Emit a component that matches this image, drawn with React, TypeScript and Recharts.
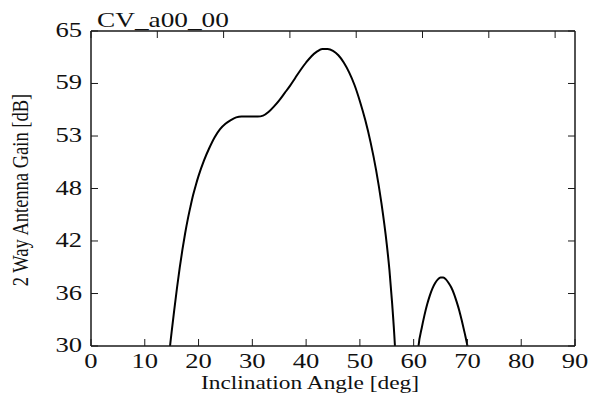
import React from 'react';
import { LineChart, Line, XAxis, YAxis } from 'recharts';

const angle = [
  14.2, 14.7, 15.0, 15.5, 16.0, 16.5, 17.0, 17.5, 18.0, 18.5, 19.0, 19.5, 20.0, 21.0, 22.0, 23.0,
  24.0, 25.0, 26.0, 27.0, 28.0, 29.0, 30.0, 31.0, 32.0, 33.0, 34.0, 35.0, 36.0, 37.0, 38.0, 39.0,
  40.0, 41.0, 42.0, 43.0, 44.0, 45.0, 46.0, 47.0, 48.0, 49.0, 50.0, 51.0, 52.0, 53.0, 54.0, 55.0,
  55.5, 56.0, 56.5, 56.8, 58.5, 60.5, 60.9, 61.5, 62.0, 62.5, 63.0, 63.5, 64.0, 64.5, 65.0, 65.5,
  66.0, 66.5, 67.0, 67.5, 68.0, 68.5, 69.0, 69.5, 70.0, 70.4,
];
const gain = [
  26.5, 30.0, 31.6, 34.1, 36.5, 38.7, 40.7, 42.5, 44.1, 45.5, 46.8, 47.9, 48.9, 50.6, 52.0, 53.2,
  54.1, 54.7, 55.1, 55.4, 55.5, 55.5, 55.5, 55.5, 55.6, 56.0, 56.6, 57.3, 58.1, 58.9, 59.8, 60.7,
  61.5, 62.2, 62.7, 63.0, 63.0, 62.8, 62.3, 61.5, 60.4, 59.0, 57.2, 55.1, 52.6, 49.6, 45.9, 41.3,
  38.4, 34.7, 30.2, 26.5, null, 27.0, 30.0, 32.0, 33.4, 34.6, 35.6, 36.4, 37.0, 37.4, 37.6, 37.6,
  37.4, 37.0, 36.5, 35.8, 34.9, 33.9, 32.7, 31.4, 30.0, 28.6,
];

const xTicks = [0, 10, 20, 30, 40, 50, 60, 70, 80, 90];
const yTicks = [30, 35.83, 41.67, 47.5, 53.33, 59.17, 65];
const yTickLabels = ['30', '36', '42', '48', '53', '59', '65'];

const titleText = 'CV_a00_00';
const xTitleText = 'Inclination Angle [deg]';
const yTitleText = '2 Way Antenna Gain [dB]';

const data = angle.map((a, i) => ({ angle: a, gain: gain[i] }));

const FONT = '"Liberation Serif", "Times New Roman", serif';
const AX = '#1a1a1a';
const SX = 1.33;

function XTick(props: any) {
  const { x, y, payload } = props;
  return (
    <text
      transform={`translate(${x},${y}) scale(${SX},1)`}
      textAnchor="middle"
      dy="0.71em"
      fontFamily={FONT}
      fontSize={20}
      fill="#111"
    >
      {payload.value}
    </text>
  );
}

function YTick(props: any) {
  const { x, y, payload } = props;
  const i = yTicks.indexOf(payload.value);
  return (
    <text
      transform={`translate(${x},${y}) scale(${SX},1)`}
      textAnchor="end"
      dy="0.3em"
      fontFamily={FONT}
      fontSize={20}
      fill="#111"
    >
      {i >= 0 ? yTickLabels[i] : payload.value}
    </text>
  );
}

const Empty = () => <g />;

export default function App() {
  return (
    <div style={{ position: 'absolute', left: 0, top: 0, width: 589, height: 396, background: '#fff' }}>
      <LineChart
        width={589}
        height={396}
        data={data}
        margin={{ top: 30, right: 13, bottom: 0, left: 0 }}
      >
        <XAxis
          xAxisId="b"
          dataKey="angle"
          type="number"
          domain={[0, 90]}
          ticks={xTicks}
          orientation="bottom"
          height={50}
          tickSize={-7}
          tickMargin={15}
          tick={<XTick />}
          axisLine={{ stroke: AX, strokeWidth: 1.5 }}
          tickLine={{ stroke: AX, strokeWidth: 1 }}
          allowDataOverflow
        />
        <XAxis
          xAxisId="t"
          type="number"
          domain={[0, 90]}
          ticks={xTicks}
          orientation="top"
          height={1}
          tickSize={-7}
          tick={<Empty />}
          axisLine={{ stroke: AX, strokeWidth: 1.5 }}
          tickLine={{ stroke: AX, strokeWidth: 1 }}
          allowDataOverflow
        />
        <YAxis
          yAxisId="l"
          type="number"
          domain={[30, 65]}
          ticks={yTicks}
          orientation="left"
          width={91}
          tickSize={-7}
          tickMargin={16}
          tick={<YTick />}
          axisLine={{ stroke: AX, strokeWidth: 1.5 }}
          tickLine={{ stroke: AX, strokeWidth: 1 }}
          allowDataOverflow
        />
        <YAxis
          yAxisId="r"
          type="number"
          domain={[30, 65]}
          ticks={yTicks}
          orientation="right"
          width={1}
          tickSize={-7}
          tick={<Empty />}
          axisLine={{ stroke: AX, strokeWidth: 1.5 }}
          tickLine={{ stroke: AX, strokeWidth: 1 }}
          allowDataOverflow
        />
        <Line
          xAxisId="b"
          yAxisId="l"
          dataKey="gain"
          type="monotone"
          stroke="#000"
          strokeWidth={2}
          dot={false}
          activeDot={false}
          connectNulls={false}
          isAnimationActive={false}
        />
        <text
          transform={`translate(97,27) scale(1.3,1)`}
          fontFamily={FONT}
          fontSize={21}
          fill="#111"
        >
          {titleText}
        </text>
        <text
          transform={`translate(310,389) scale(1.3,1)`}
          textAnchor="middle"
          fontFamily={FONT}
          fontSize={18}
          fill="#111"
        >
          {xTitleText}
        </text>
        <text
          transform={`translate(20,190) rotate(-90) scale(1,1.25)`}
          textAnchor="middle"
          dy="0.35em"
          fontFamily={FONT}
          fontSize={18.5}
          fill="#111"
        >
          {yTitleText}
        </text>
      </LineChart>
    </div>
  );
}
